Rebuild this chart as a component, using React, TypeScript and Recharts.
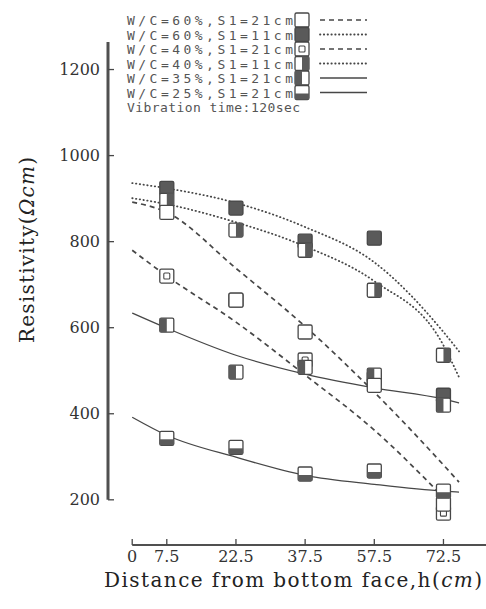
import React from 'react';
import { ComposedChart, Line, Scatter, XAxis, YAxis, ReferenceLine, Legend } from 'recharts';

// x positions: the printed axis is not linear, so each label gets a slot
const tickLabels = ['0', '7.5', '22.5', '37.5', '57.5', '72.5'];
const tickPos = [0, 1, 3, 5, 7, 9];
const yTicks = [200, 400, 600, 800, 1000, 1200];

// measured resistivity at h = 7.5, 22.5, 37.5, 57.5, 72.5
const pointPos = [1, 3, 5, 7, 9];
const wc60s21 = [868, 664, 590, 466, 190];
const wc60s11 = [924, 878, 801, 808, 443];
const wc40s21 = [720, 664, 525, 482, 169];
const wc40s11 = [896, 827, 780, 687, 536];
const wc35s21 = [606, 497, 508, 490, 420];
const wc25s21 = [343, 322, 260, 267, 220];

// fitted curves
const fitPos = [0, 1, 3, 5, 7, 9, 9.45];
const fit60s21 = [892, 868, 738, 603, 450, 281, 241];
const fit60s11 = [936, 924, 890, 834, 752, 590, 545];
const fit40s21 = [780, 720, 613, 490, 362, 206, null];
const fit40s11 = [901, 887, 845, 789, 708, 559, 485];
const fit35s21 = [634, 599, 536, 492, 460, 434, 425];
const fit25s21 = [392, 350, 299, 257, 236, 220, 218];

const INK = '#474747';
const DARK = '#5a5a5a';

const toRows = (pos: number[], vals: (number | null)[]) => pos.map((p, i) => ({ pos: p, v: vals[i] }));

type Kind = 'open' | 'filled' | 'inner' | 'right' | 'left' | 'bottom';
type Style = 'dashed' | 'dotted' | 'solid';

const series: { name: string; kind: Kind; line: Style; points: number[]; fit: (number | null)[] }[] = [
    { name: 'W/C=60%,S1=21cm', kind: 'open', line: 'dashed', points: wc60s21, fit: fit60s21 },
    { name: 'W/C=60%,S1=11cm', kind: 'filled', line: 'dotted', points: wc60s11, fit: fit60s11 },
    { name: 'W/C=40%,S1=21cm', kind: 'inner', line: 'dashed', points: wc40s21, fit: fit40s21 },
    { name: 'W/C=40%,S1=11cm', kind: 'right', line: 'dotted', points: wc40s11, fit: fit40s11 },
    { name: 'W/C=35%,S1=21cm', kind: 'left', line: 'solid', points: wc35s21, fit: fit35s21 },
    { name: 'W/C=25%,S1=21cm', kind: 'bottom', line: 'solid', points: wc25s21, fit: fit25s21 },
];
// order in which the markers are stacked
const drawOrder = [1, 3, 2, 4, 0, 5];

const lineProps = (s: Style) =>
    s === 'dashed'
        ? { strokeWidth: 1.7, strokeDasharray: '5 4' }
        : s === 'dotted'
        ? { strokeWidth: 1.8, strokeDasharray: '0.4 3.4', strokeLinecap: 'round' as const }
        : { strokeWidth: 1.3 };

const Marker = ({ cx, cy, kind }: { cx: number; cy: number; kind: Kind }) => {
    const w = 14;
    const h = 14;
    const x = cx - w / 2;
    const y = cy - h / 2;
    return (
        <g>
            <rect x={x} y={y} width={w} height={h} rx={1.5} fill={kind === 'filled' ? DARK : '#fff'} stroke={INK} strokeWidth={1.3} />
            {kind === 'inner' && <rect x={cx - 3} y={cy - 3} width={6} height={6} rx={1} fill='none' stroke={INK} strokeWidth={1.1} />}
            {kind === 'right' && <rect x={cx} y={y} width={w / 2} height={h} fill={DARK} />}
            {kind === 'left' && <rect x={x} y={y} width={w / 2} height={h} fill={DARK} />}
            {kind === 'bottom' && <rect x={x} y={cy + 1} width={w} height={h / 2 - 1} fill={DARK} />}
        </g>
    );
};

const XTick = ({ x, y, payload }: any) => (
    <g>
        <line x1={x} x2={x} y1={y} y2={y - 6} stroke={INK} strokeWidth={1.3} />
        <text x={x} y={y + 17} textAnchor='middle' fontFamily='DejaVu Serif' fontSize={16} fill='#333'>
            {tickLabels[tickPos.indexOf(payload.value)]}
        </text>
    </g>
);

const YTick = ({ x, y, payload }: any) => (
    <g>
        <line x1={x} x2={x + 6} y1={y} y2={y} stroke={INK} strokeWidth={1.3} />
        <text x={x - 8} y={y + 5.5} textAnchor='end' fontFamily='DejaVu Serif' fontSize={16} fill='#333'>
            {payload.value}
        </text>
    </g>
);

const rowY = [20, 34.5, 49, 63.5, 78, 92.5];

const LegendBox = () => (
    <svg width={486} height={120} style={{ display: 'block' }}>
        {series.map((s, i) => (
            <g key={s.name}>
                <text x={127} y={rowY[i] + 5} fontFamily='DejaVu Sans Mono' fontSize={13} fill='#555' textLength={166} lengthAdjust='spacing'>
                    {s.name}
                </text>
                <Marker cx={302} cy={rowY[i]} kind={s.kind} />
                <line x1={320} x2={367} y1={rowY[i]} y2={rowY[i]} stroke={INK} {...lineProps(s.line)} />
            </g>
        ))}
        <text x={127} y={112} fontFamily='DejaVu Sans Mono' fontSize={13} fill='#555' textLength={173} lengthAdjust='spacing'>
            Vibration time:120sec
        </text>
    </svg>
);

const App = () => {
    return (
        <div style={{ position: 'absolute', left: 0, top: 0 }}>
            <ComposedChart width={486} height={609} margin={{ top: 42, right: 0, bottom: 14, left: 0 }}>
                <XAxis
                    type='number'
                    dataKey='pos'
                    domain={[-0.7, 10.23]}
                    ticks={tickPos}
                    interval={0}
                    allowDataOverflow
                    axisLine={false}
                    tickLine={false}
                    tickSize={0}
                    tickMargin={0}
                    height={50}
                    tick={<XTick />}
                    label={{
                        content: () => (
                            <text x={104} y={587} fontFamily='DejaVu Serif' fontSize={20} fill='#222' textLength={378} lengthAdjust='spacing'>
                                Distance from bottom face,h(<tspan fontStyle='italic'>cm</tspan>)
                            </text>
                        ),
                    }}
                />
                <YAxis
                    type='number'
                    dataKey='v'
                    domain={[95, 1264]}
                    ticks={yTicks}
                    interval={0}
                    allowDataOverflow
                    axisLine={false}
                    tickLine={false}
                    tickSize={0}
                    tickMargin={0}
                    width={108}
                    tick={<YTick />}
                    label={{
                        content: () => (
                            <text transform='rotate(-90)' x={-250} y={34} textAnchor='middle' fontFamily='DejaVu Serif' fontSize={20} fill='#222' textLength={186} lengthAdjust='spacing'>
                                Resistivity(<tspan fontStyle='italic'>Ωcm</tspan>)
                            </text>
                        ),
                    }}
                />
                <ReferenceLine segment={[{ x: -0.7, y: 200 }, { x: -0.7, y: 1264 }]} stroke='#505050' strokeWidth={3} ifOverflow='visible' />
                <ReferenceLine segment={[{ x: 0, y: 95 }, { x: 10.23, y: 95 }]} stroke='#505050' strokeWidth={2} ifOverflow='visible' />
                <Legend layout='vertical' align='center' verticalAlign='middle' content={<LegendBox />} wrapperStyle={{ left: 0, top: 0, width: 486, height: 120 }} />
                {series.map(s => (
                    <Line
                        key={'fit-' + s.name}
                        data={toRows(fitPos, s.fit)}
                        dataKey='v'
                        type='monotone'
                        stroke={INK}
                        dot={false}
                        activeDot={false}
                        legendType='none'
                        isAnimationActive={false}
                        {...lineProps(s.line)}
                    />
                ))}
                {drawOrder.map(i => {
                    const s = series[i];
                    return (
                        <Scatter
                            key={'pt-' + s.name}
                            name={s.name}
                            data={toRows(pointPos, s.points)}
                            isAnimationActive={false}
                            shape={(p: any) => <Marker cx={p.cx} cy={p.cy} kind={s.kind} />}
                        />
                    );
                })}
            </ComposedChart>
        </div>
    );
};

export default App;
